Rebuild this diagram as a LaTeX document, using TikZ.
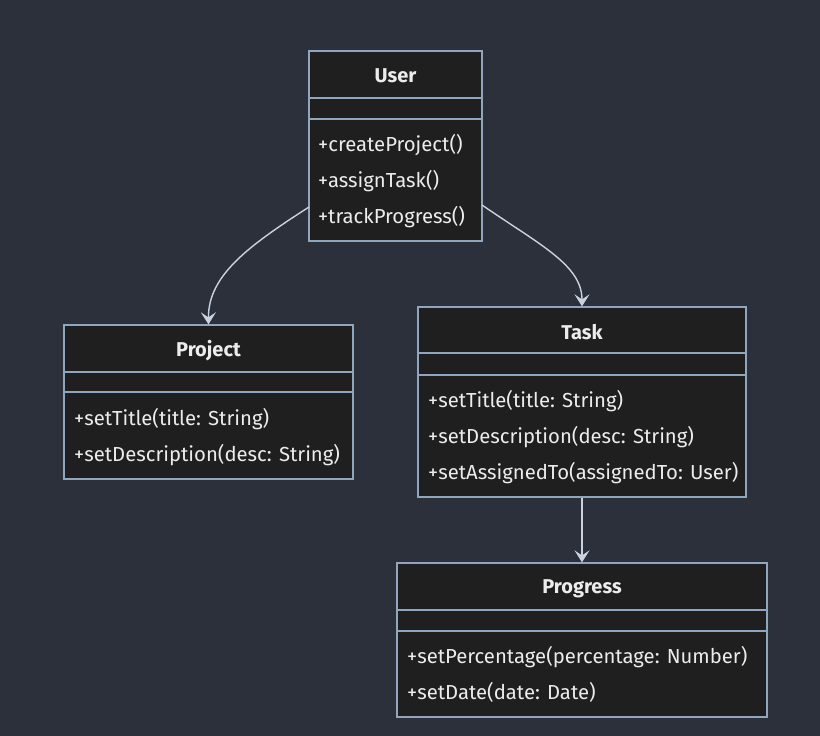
\documentclass[tikz,border=0pt]{standalone}
\usepackage{fontspec}
\setmainfont{Fira Sans}
\usetikzlibrary{arrows.meta}
\definecolor{bgc}{HTML}{2B303B}
\definecolor{boxc}{HTML}{1F1F1F}
\definecolor{bordc}{HTML}{8FA6BE}
\definecolor{txtc}{HTML}{ECECEC}
\definecolor{edgec}{HTML}{C9D2DE}
\tikzset{
  cls/.style={draw=bordc, fill=boxc, line width=1.3pt, rectangle, inner sep=0pt},
  ttl/.style={text=txtc, font=\bfseries\fontsize{20}{24}\selectfont, inner sep=0pt},
  meth/.style={text=txtc, anchor=west, font=\fontsize{20.3}{24}\selectfont, inner sep=0pt},
  divl/.style={draw=bordc, line width=1.3pt},
  edge/.style={draw=edgec, line width=1.4pt, -{Stealth[length=12pt,width=15pt,inset=5pt]}}
}
\begin{document}
\begin{tikzpicture}[x=1pt,y=-1pt]
\fill[bgc] (0,0) rectangle (820,736);
\useasboundingbox (0,0) rectangle (820,736);

% User
\node[cls, minimum width=173pt, minimum height=190pt] (user) at (395.5,146) {};
\node[ttl] (userT) at (395.5,76) {User};
\draw[divl] (309,98) -- (482,98);
\draw[divl] (309,119) -- (482,119);
\node[meth] (u1) at (318,145) {+createProject()};
\node[meth] (u2) at (318,181) {+assignTask()};
\node[meth] (u3) at (318,217) {+trackProgress()};

% Project
\node[cls, minimum width=289pt, minimum height=154pt] (project) at (208.5,402) {};
\node[ttl] (projectT) at (208.5,351) {Project};
\draw[divl] (64,372) -- (353,372);
\draw[divl] (64,392) -- (353,392);
\node[meth] (p1) at (74,419) {+setTitle(title: String)};
\node[meth] (p2) at (74,455) {+setDescription(desc: String)};

% Task
\node[cls, minimum width=328pt, minimum height=190pt] (task) at (582,402) {};
\node[ttl] (taskT) at (582,332) {Task};
\draw[divl] (418,353) -- (746,353);
\draw[divl] (418,375) -- (746,375);
\node[meth] (t1) at (428,401) {+setTitle(title: String)};
\node[meth] (t2) at (428,437) {+setDescription(desc: String)};
\node[meth] (t3) at (428,473) {+setAssignedTo(assignedTo: User)};

% Progress
\node[cls, minimum width=370pt, minimum height=154pt] (progress) at (582,640) {};
\node[ttl] (progressT) at (582,589) {Progress};
\draw[divl] (397,610) -- (767,610);
\draw[divl] (397,631) -- (767,631);
\node[meth] (g1) at (407,657) {+setPercentage(percentage: Number)};
\node[meth] (g2) at (407,692) {+setDate(date: Date)};

% edges
\coordinate (uL) at (309,207);
\coordinate (uR) at (482,205);
\draw[edge] (uL) .. controls (250,245) and (208,275) .. (project.north);
\draw[edge] (uR) .. controls (540,245) and (582,265) .. (task.north);
\draw[edge] (task.south) -- (progress.north);
\end{tikzpicture}
\end{document}
